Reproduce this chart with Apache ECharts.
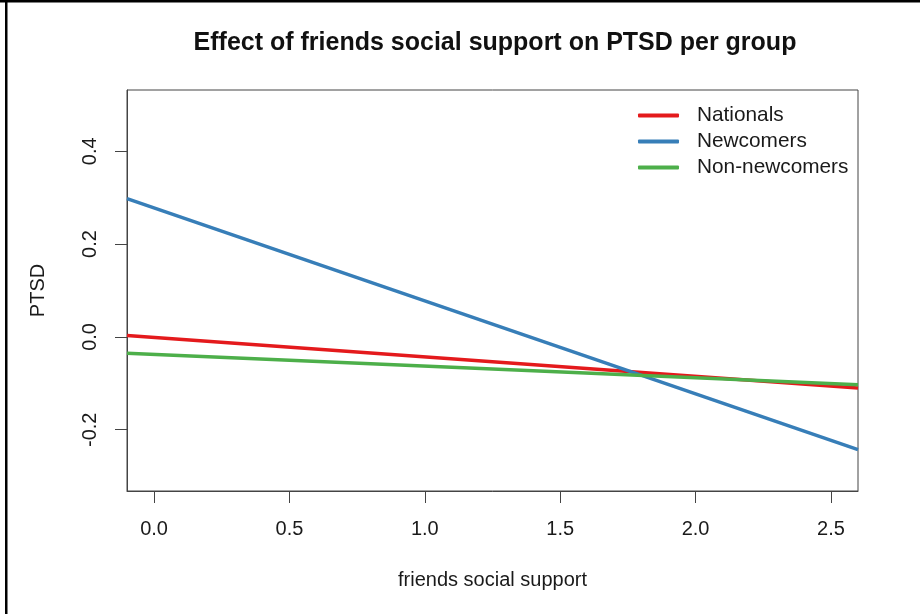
<!DOCTYPE html>
<html>
<head>
<meta charset="utf-8">
<script src="https://cdn.jsdelivr.net/npm/echarts@6/dist/echarts.min.js"></script>
<style>
  html, body { margin: 0; padding: 0; background: #fff; }
  #chart { width: 920px; height: 614px; }
</style>
</head>
<body>
<div id="chart"></div>
<script>
// Predicted PTSD at the ends of the friends-social-support range, per group
const supportRange = [-0.1, 2.6];
const nationals = [0.003, -0.110];
const newcomers = [0.298, -0.243];
const nonNewcomers = [-0.035, -0.103];

const groupNames = ['Nationals', 'Newcomers', 'Non-newcomers'];
const groupColors = ['#E41A1C', '#377EB8', '#4DAF4A'];

const xTicks = [0, 0.5, 1, 1.5, 2, 2.5];
const yTicks = [-0.2, 0, 0.2, 0.4];

const FONT = '"Liberation Sans", Arial, sans-serif';
const INK = '#1a1a1a';
const FS = 20;

function pairs(ys) {
  return supportRange.map((x, i) => [x, ys[i]]);
}

const chart = echarts.init(document.getElementById('chart'), null, { renderer: 'canvas' });

const seriesValues = [nationals, newcomers, nonNewcomers];

chart.setOption({
  animation: false,
  backgroundColor: '#fff',
  title: {
    text: 'Effect of friends social support on PTSD per group',
    left: 490,
    top: 26,
    textAlign: 'center',
    textStyle: { fontFamily: FONT, fontSize: 25, fontWeight: 'bold', color: '#111' }
  },
  legend: {
    orient: 'vertical',
    left: 633,
    top: 100,
    itemWidth: 41,
    itemHeight: 4,
    itemGap: 5,
    icon: 'roundRect',
    data: groupNames,
    textStyle: { fontFamily: FONT, fontSize: 20.8, color: INK, lineHeight: 20, padding: [0, 0, 0, 13] }
  },
  grid: {
    left: 127, top: 90, right: 62, bottom: 123,
    show: true, borderColor: '#444', borderWidth: 1, backgroundColor: 'transparent'
  },
  xAxis: {
    type: 'value',
    min: -0.1, max: 2.6,
    name: 'friends social support',
    nameLocation: 'middle',
    nameGap: 79,
    nameTextStyle: { fontFamily: FONT, fontSize: FS, color: INK },
    splitLine: { show: false },
    axisLine: { show: true, onZero: false, lineStyle: { color: '#444', width: 1 } },
    axisTick: { show: true, inside: false, length: 12, customValues: xTicks, lineStyle: { color: '#444' } },
    axisLabel: {
      customValues: xTicks, margin: 28,
      fontFamily: FONT, fontSize: FS, color: INK,
      formatter: v => v.toFixed(1)
    }
  },
  yAxis: {
    type: 'value',
    min: -0.332, max: 0.532,
    name: 'PTSD',
    nameLocation: 'middle',
    nameGap: 79,
    nameTextStyle: { fontFamily: FONT, fontSize: FS, color: INK },
    splitLine: { show: false },
    axisLine: { show: true, onZero: false, lineStyle: { color: '#444', width: 1 } },
    axisTick: { show: true, inside: false, length: 12, customValues: yTicks, lineStyle: { color: '#444' } },
    axisLabel: {
      customValues: yTicks, margin: 27, rotate: 90,
      fontFamily: FONT, fontSize: FS, color: INK,
      formatter: v => v.toFixed(1)
    }
  },
  series: groupNames.map((name, i) => ({
    name,
    type: 'line',
    data: pairs(seriesValues[i]),
    showSymbol: false,
    symbol: 'none',
    color: groupColors[i],
    lineStyle: { width: 3.5, color: groupColors[i] },
    z: 2 + i
  })),
  graphic: [
    { type: 'rect', shape: { x: 0, y: 0, width: 920, height: 2.5 }, style: { fill: '#000' }, silent: true },
    { type: 'rect', shape: { x: 5, y: 0, width: 2.5, height: 614 }, style: { fill: '#000' }, silent: true }
  ]
});
</script>
</body>
</html>
